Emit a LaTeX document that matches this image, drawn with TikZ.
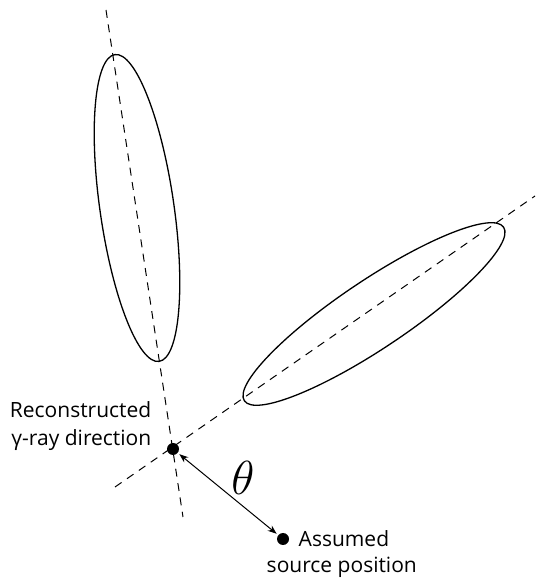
\documentclass[tikz,border=0pt]{standalone}
\usepackage{fontspec}
\setmainfont{Open Sans}
\usetikzlibrary{shapes.geometric, arrows.meta, positioning}

\begin{document}
\begin{tikzpicture}[
  x=1pt, y=1pt,
  font=\fontsize{21}{28}\selectfont,
  axis/.style={dash pattern=on 8pt off 6.5pt, line width=1pt},
  cluster/.style={draw, ellipse, line width=1.3pt, inner sep=0pt},
  dot/.style={circle, fill, inner sep=0pt, minimum size=12pt},
  arrow/.style={{Stealth[length=9pt]}-{Stealth[length=9pt]}, line width=1pt, shorten <=2pt, shorten >=2pt}
]
\useasboundingbox (0,0) rectangle (536,578);

% image axes of the two showers
\coordinate (axisAtop) at (106,568);
\coordinate (axisAbot) at (183,61);
\coordinate (axisBlow) at (115,91);
\coordinate (axisBup) at (535,382);
\draw[axis] (axisAtop) -- (axisAbot);
\draw[axis] (axisBlow) -- (axisBup);

% Hillas ellipses
\node[cluster, minimum width=310pt, minimum height=74pt, rotate=98.2] (imageA) at (137,370) {};
\node[cluster, minimum width=312pt, minimum height=68pt, rotate=33.8] (imageB) at (374,264) {};

% points
\node[dot] (recon) at (173,129) {};
\node[dot] (source) at (283,39) {};
\draw[arrow] (recon) -- (source);

\node[left=12pt of recon, align=right, yshift=23pt] (reconlbl) {Reconstructed\\γ-ray direction};
\node[right=6pt of source] (srclbl) {Assumed};
\node[anchor=north west] (srclbl2) at ([xshift=-32pt, yshift=-3pt]srclbl.south west) {source position};
\node (theta) at (243,100) {\scalebox{2.3}{$\theta$}};
\end{tikzpicture}
\end{document}
